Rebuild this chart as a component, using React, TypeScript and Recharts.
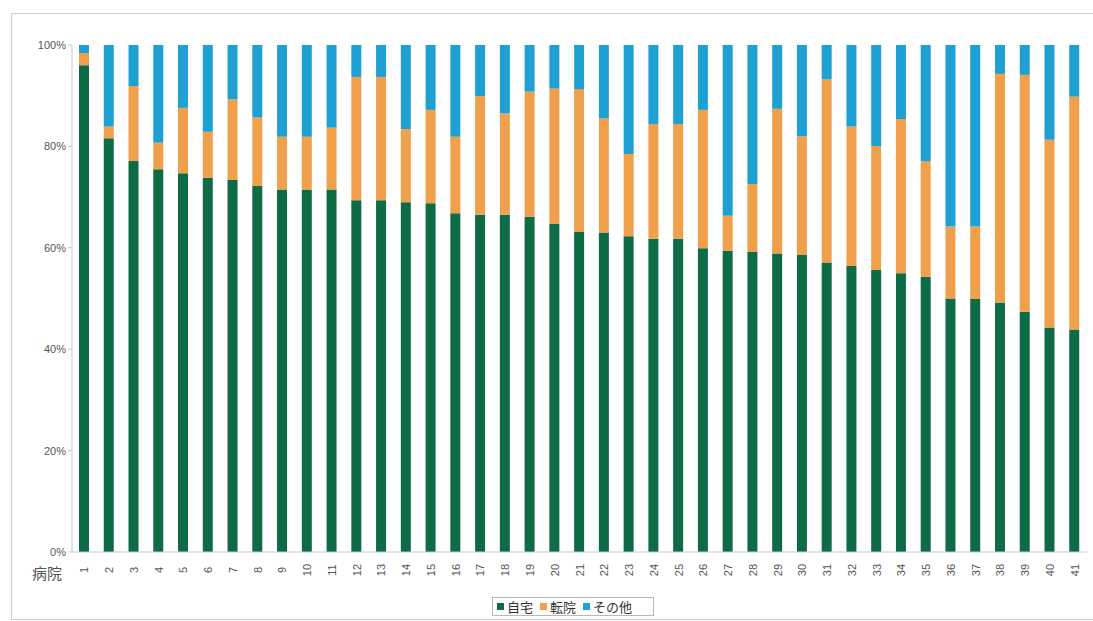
import { BarChart, Bar, XAxis, YAxis, Legend } from "recharts"

// 病院ごとの退院先の割合 (%)
const hospitals = [
	"1", "2", "3", "4", "5", "6", "7", "8", "9", "10",
	"11", "12", "13", "14", "15", "16", "17", "18", "19", "20",
	"21", "22", "23", "24", "25", "26", "27", "28", "29", "30",
	"31", "32", "33", "34", "35", "36", "37", "38", "39", "40", "41",
]

const home = [
	96.0, 81.6, 77.1, 75.5, 74.7, 73.8, 73.4, 72.2, 71.5, 71.5,
	71.5, 69.4, 69.4, 69.0, 68.8, 66.8, 66.5, 66.5, 66.1, 64.7,
	63.2, 63.0, 62.3, 61.8, 61.8, 59.9, 59.4, 59.2, 58.9, 58.6,
	57.1, 56.4, 55.6, 55.0, 54.3, 50.0, 49.9, 49.2, 47.4, 44.3, 43.9,
]

const transfer = [
	2.4, 2.3, 14.8, 5.2, 12.9, 9.1, 15.9, 13.5, 10.4, 10.4,
	12.2, 24.3, 24.3, 14.4, 18.4, 15.1, 23.4, 20.0, 24.7, 26.7,
	28.1, 22.5, 16.2, 22.6, 22.6, 27.3, 6.9, 13.4, 28.5, 23.4,
	36.1, 27.5, 24.5, 30.4, 22.7, 14.2, 14.3, 45.1, 46.7, 37.0, 45.9,
]

const other = [
	1.6, 16.1, 8.1, 19.3, 12.4, 17.1, 10.7, 14.3, 18.1, 18.1,
	16.3, 6.3, 6.3, 16.6, 12.8, 18.1, 10.1, 13.5, 9.2, 8.6,
	8.7, 14.5, 21.5, 15.6, 15.6, 12.8, 33.7, 27.4, 12.6, 18.0,
	6.8, 16.1, 19.9, 14.6, 23.0, 35.8, 35.8, 5.7, 5.9, 18.7, 10.2,
]

const seriesOrder = ["自宅", "転院", "その他"]
const yTicks = [0, 0.2, 0.4, 0.6, 0.8, 1]

const data = hospitals.map((h, i) => ({
	name: h,
	home: home[i],
	transfer: transfer[i],
	other: other[i],
}))

const tickFont = { fill: "#555", fontSize: 11, fontFamily: "Liberation Sans, Arial, sans-serif" }

function HospitalTick({ x, y, payload }: any) {
	return (
		<g transform={`translate(${x},${y + 10})`}>
			<text transform="rotate(-90)" textAnchor="middle" dy={4} {...tickFont}>
				{payload.value}
			</text>
		</g>
	)
}

function LegendBox({ payload }: any) {
	const items = [...(payload || [])].sort(
		(a: any, b: any) => seriesOrder.indexOf(a.value) - seriesOrder.indexOf(b.value)
	)
	return (
		<div
			style={{
				display: "flex",
				alignItems: "center",
				height: 19,
				border: "1px solid #b8b8b8",
				padding: "0 4px",
				fontSize: 13,
				fontFamily: '"Noto Sans CJK JP", sans-serif',
				color: "#333",
				boxSizing: "border-box",
			}}
		>
			{items.map((p: any) => (
				<span key={p.value} style={{ display: "flex", alignItems: "center", marginRight: 7 }}>
					<span style={{ width: 7, height: 7, background: p.color, marginRight: 3 }} />
					{p.value}
				</span>
			))}
		</div>
	)
}

export default function App() {
	return (
		<div
			style={{
				position: "absolute",
				left: 0,
				top: 0,
				width: 1093,
				height: 621,
				background: "#fff",
				overflow: "hidden",
			}}
		>
			{/* outer frame */}
			<div
				style={{
					position: "absolute",
					left: 11,
					top: 13,
					width: 1095,
					height: 605,
					border: "1px solid #cdcdcd",
				}}
			/>
			<div style={{ position: "absolute", left: 0, top: 0 }}>
				<BarChart
					width={1093}
					height={621}
					data={data}
					stackOffset="expand"
					barSize={10}
					margin={{ top: 45, right: 6, left: 0, bottom: 0 }}
				>
					<XAxis
						dataKey="name"
						height={69}
						interval={0}
						tick={<HospitalTick />}
						tickLine={false}
						axisLine={{ stroke: "#c8c8c8" }}
						label={{
							value: "病院",
							position: "left",
							offset: 10,
							dy: -13,
							fill: "#555",
							fontSize: 15,
							fontFamily: '"Noto Sans CJK JP", sans-serif',
						}}
					/>
					<YAxis
						width={72}
						domain={[0, 1]}
						ticks={yTicks}
						tickFormatter={(v: number) => `${Math.round(v * 100)}%`}
						tick={tickFont}
						tickSize={4}
						tickLine={{ stroke: "#c8c8c8" }}
						axisLine={{ stroke: "#c8c8c8" }}
					/>
					<Legend
						layout="horizontal"
						verticalAlign="middle"
						align="center"
						content={<LegendBox />}
						wrapperStyle={{ top: 597, left: 492, width: 162, height: 19 }}
					/>
					<Bar dataKey="home" name="自宅" stackId="a" fill="#0d6b46" isAnimationActive={false} />
					<Bar dataKey="transfer" name="転院" stackId="a" fill="#f0a04b" isAnimationActive={false} />
					<Bar dataKey="other" name="その他" stackId="a" fill="#1fa0d3" isAnimationActive={false} />
				</BarChart>
			</div>
		</div>
	)
}
